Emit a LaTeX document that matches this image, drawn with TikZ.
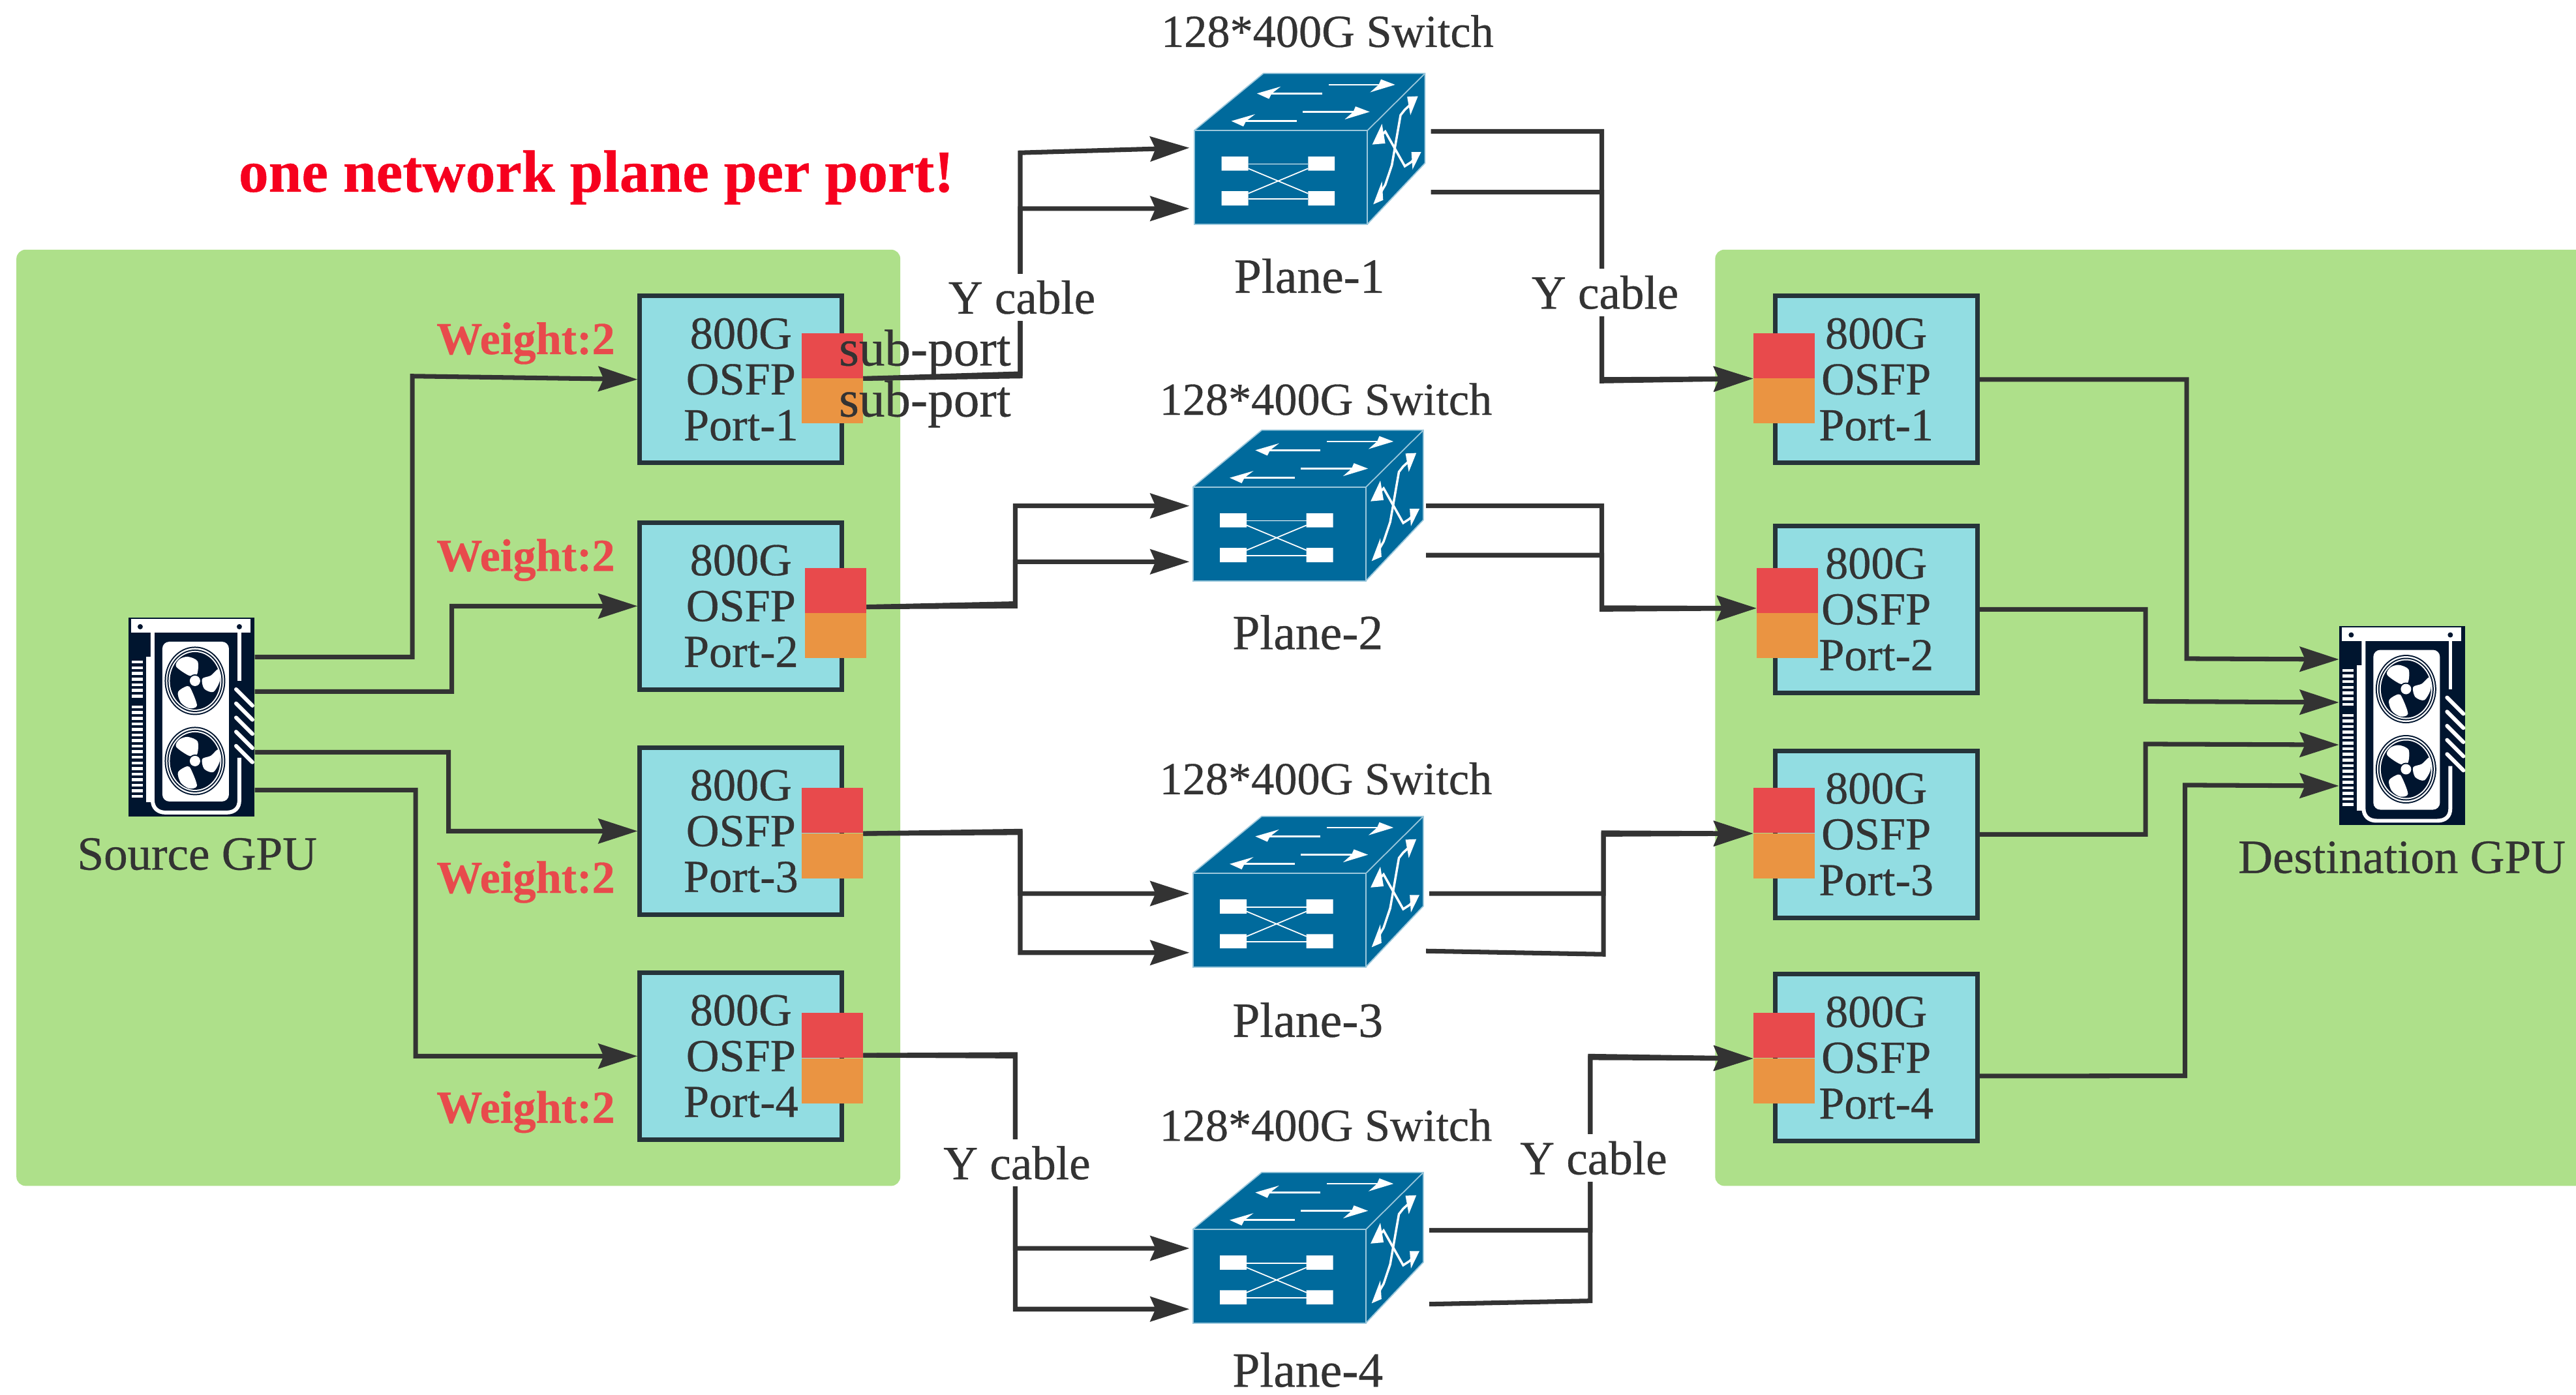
\documentclass[tikz,border=0pt]{standalone}
\usepackage{fontspec}
\setmainfont{Liberation Serif}[FakeBold=0.5]
\usetikzlibrary{arrows.meta}
\definecolor{panelgreen}{HTML}{AEE08A}
\definecolor{portblue}{HTML}{92DDE2}
\definecolor{boxedge}{HTML}{26343A}
\definecolor{subred}{HTML}{E84A4C}
\definecolor{suborange}{HTML}{EA9442}
\definecolor{switchblue}{HTML}{006A9C}
\definecolor{switchedge}{HTML}{9CC8DC}
\definecolor{gpunavy}{HTML}{00152F}
\definecolor{inktext}{HTML}{333333}
\definecolor{alarmred}{HTML}{F6001E}
\definecolor{weightred}{HTML}{E84A4C}
\tikzset{
  panel/.style={fill=panelgreen, rounded corners=4pt},
  portbox/.style={draw=boxedge, fill=portblue, line width=2pt, minimum width=3.1cm, minimum height=2.56cm,
    align=center, text=inktext, font=\fontsize{20}{20}\selectfont, inner sep=0pt},
  subtop/.style={fill=subred, minimum width=9.4mm, minimum height=6.9mm, inner sep=0pt},
  subbottom/.style={fill=suborange, minimum width=9.4mm, minimum height=6.9mm, inner sep=0pt},
  wire/.style={inktext, line width=2pt},
  wirearrow/.style={wire, -{Stealth[length=6mm, width=3.8mm, inset=0.8mm]}},
  label/.style={text=inktext, font=\fontsize{20}{20}\selectfont, inner sep=1pt},
  widelabel/.style={label, font=\fontsize{21.5}{21.5}\selectfont},
  subportlabel/.style={label, font=\fontsize{22.5}{22.5}\selectfont},
  cablelabel/.style={label, fill=white, inner sep=3pt, font=\fontsize{20.8}{20.8}\selectfont},
  weightlabel/.style={text=weightred, font=\fontsize{20}{20}\selectfont\bfseries, inner sep=1pt},
  switchface/.style={fill=switchblue, draw=switchedge, line width=0.5pt, minimum width=26.5mm, minimum height=14.4mm, inner sep=0pt},
  gpucard/.style={fill=gpunavy, minimum width=19.3mm, minimum height=30.5mm, inner sep=0pt},
}
% switch cube, #2 #3 = top left corner of the front face
\newcommand{\switchicon}[3]{
  \begin{scope}[shift={(#2,#3)}]
    \fill[switchblue] (0,0) -- (42,-34.7) -- (140.4,-34.7) -- (140.4,19.9) -- (105.4,57) -- (105.4,0) -- cycle;
    \draw[switchedge, line width=0.5pt] (0,0) -- (42,-34.7) -- (140.4,-34.7) -- (140.4,19.9) -- (105.4,57);
    \draw[switchedge, line width=0.5pt] (105.4,0) -- (140.4,-34.7);
    \node[switchface] (#1) at (52.7,28.5) {};
    \fill[white] (16.5,15.9) rectangle (32.8,24.5) (69.2,15.9) rectangle (85.4,24.5);
    \fill[white] (16.5,37) rectangle (32.8,45.7) (69.2,37) rectangle (85.4,45.7);
    \draw[white, line width=0.5pt] (32.8,20.5) -- (69.2,20.5) (32.8,41.7) -- (69.2,41.7);
    \draw[white, line width=0.5pt] (32.8,23.2) -- (69.2,38.4) (32.8,38.4) -- (69.2,23.2);
    % top face arrows
    \draw[white, line width=0.8pt] (77.8,-22.5) -- (42,-22.5) (81.8,-27.8) -- (116,-27.8) (65.9,-11.3) -- (100,-11.3) (62.2,-5.7) -- (27,-5.7);
    \foreach \px/\py in {38.1/-22.5, 22.5/-5.7}
      \fill[white] (\px,\py) -- ++(14.5,-4.2) -- ++(-5.5,4.2) -- ++(-1.7,3.3) -- cycle;
    \foreach \px/\py in {122.2/-27.8, 106.7/-11.3}
      \fill[white] (\px,\py) -- ++(-8.6,-3.3) -- ++(-1.4,3.3) -- ++(-5.2,4.6) -- cycle;
    % side face arrows
    \draw[white, line width=1pt] (134,-18) -- (128.1,-12.6) -- (125.5,-9.3) -- (120.2,21.2) -- (116.2,33.1) -- (111,42);
    \draw[white, line width=1pt] (110,7) -- (116.2,0.7) -- (128.1,21.8) -- (132.1,19.2) -- (136,15);
    \fill[white] (136.1,-20.8) -- (129.5,-20.5) -- (131.5,-9.3) -- cycle;
    \fill[white] (108.9,45) -- (114.2,31) -- (114.9,42.4) -- cycle;
    \fill[white] (108.3,8.6) -- (114.2,-4) -- (116.2,7.9) -- cycle;
    \fill[white] (138,13.2) -- (132.1,13.2) -- (132.8,23.8) -- cycle;
  \end{scope}
}
% one fan of the card
\newcommand{\gpufan}[2]{
  \begin{scope}[shift={(#1,#2)}]
    \fill[gpunavy] (0,0) ellipse [x radius=46.5, y radius=52.5];
    \fill[white] (0,0) ellipse [x radius=44.5, y radius=50.5];
    \fill[gpunavy] (0,0) ellipse [x radius=42.5, y radius=48];
    \fill[white] (0,0) ellipse [x radius=40.5, y radius=46];
    \fill[gpunavy] (0,0) ellipse [x radius=38.5, y radius=44];
    \fill[white] plot[smooth cycle] coordinates {(-11,-37) (4,-30) (3,-10) (-9,-8) (-29,-22) (-24,-33)};
    \fill[white] plot[smooth cycle] coordinates {(36,-18) (38,0) (28,17) (14,12) (11,-3) (24,-8)};
    \fill[white] plot[smooth cycle] coordinates {(-26,17) (-12,8) (-6,13) (3,38) (-9,42) (-22,33)};
    \fill[gpunavy] (0,0) circle (10);
    \fill[white] (0,0) circle (8);
  \end{scope}
}
% graphics card, #2 #3 = top left corner
\newcommand{\gpuicon}[3]{
  \begin{scope}[shift={(#2,#3)}, scale=0.397]
    \node[gpucard] (#1) at (96.5,152.5) {};
    \fill[white] (4,2) rectangle (187,23);
    \fill[gpunavy] (18,14) circle (4) (170,14) circle (4);
    \fill[white] (27,60) rectangle (40,283);
    \draw[white, line width=1.7pt] (37,23) -- (37,280) .. controls (37,292) and (45,299) .. (57,299) -- (150,299) .. controls (163,299) and (170,292) .. (170,280) -- (170,215);
    \draw[white, line width=1.5pt] (170,23) -- (170,97);
    \fill[white, rounded corners=3pt] (52,37) rectangle (154,282);
    \gpufan{102}{97}
    \gpufan{102}{220}
    \foreach \n in {0,...,6}
      \fill[white] (5,{66+8.7*\n}) rectangle (22,{70.5+8.7*\n});
    \foreach \n in {0,...,16}
      \fill[white] (5,{135+8.56*\n}) rectangle (22,{139.5+8.56*\n});
    \foreach \n in {0,...,4}
      \draw[white, line width=1.7pt, line cap=round] (165,{110+21.7*\n}) -- (190,{135+21.7*\n});
  \end{scope}
}
\begin{document}
\begin{tikzpicture}[x=0.25185mm, y=-0.25185mm]
\clip (0,0) rectangle (1568,849);
% Server panels
\fill[panel] (10,152) rectangle (548,722);
\fill[panel] (1044,152) rectangle (1600,722);

\node[text=alarmred, font=\fontsize{26}{26}\selectfont\bfseries, inner sep=0pt] (title) at (363,108) {one network plane per port!};

% Source ports
\node[portbox] (lbox1) at (451,231) {800G\\OSFP\\Port-1};
\node[portbox] (lbox2) at (451,369) {800G\\OSFP\\Port-2};
\node[portbox] (lbox3) at (451,506) {800G\\OSFP\\Port-3};
\node[portbox] (lbox4) at (451,643) {800G\\OSFP\\Port-4};

\node[subtop] (lsub1a) at (506.5,216.5) {};
\node[subbottom] (lsub1b) at (506.5,244) {};
\node[subtop] (lsub2a) at (508.5,359.5) {};
\node[subbottom] (lsub2b) at (508.5,387) {};
\node[subtop] (lsub3a) at (506.5,493.5) {};
\node[subbottom] (lsub3b) at (506.5,521) {};
\node[subtop] (lsub4a) at (506.5,630.5) {};
\node[subbottom] (lsub4b) at (506.5,658) {};

% Destination ports
\node[portbox] (rbox1) at (1142,231) {800G\\OSFP\\Port-1};
\node[portbox] (rbox2) at (1142,371) {800G\\OSFP\\Port-2};
\node[portbox] (rbox3) at (1142,508) {800G\\OSFP\\Port-3};
\node[portbox] (rbox4) at (1142,644) {800G\\OSFP\\Port-4};

\node[subtop] (rsub1a) at (1086,216.5) {};
\node[subbottom] (rsub1b) at (1086,244) {};
\node[subtop] (rsub2a) at (1088,359.5) {};
\node[subbottom] (rsub2b) at (1088,387) {};
\node[subtop] (rsub3a) at (1086,493.5) {};
\node[subbottom] (rsub3b) at (1086,521) {};
\node[subtop] (rsub4a) at (1086,630.5) {};
\node[subbottom] (rsub4b) at (1086,658) {};

% Icons
\gpuicon{srcgpu}{78.2}{376}
\gpuicon{dstgpu}{1424}{381}
\switchicon{sw1}{727}{79.4}
\switchicon{sw2}{726}{296.6}
\switchicon{sw3}{726}{531.7}
\switchicon{sw4}{726}{748.5}

\coordinate (sw1i1) at (724,90);
\coordinate (sw1i2) at (724,127);
\coordinate (sw2i1) at (724,308);
\coordinate (sw2i2) at (724,342);
\coordinate (sw3i1) at (724,544);
\coordinate (sw3i2) at (724,580);
\coordinate (sw4i1) at (724,760);
\coordinate (sw4i2) at (724,797);
\coordinate (sw1o1) at (871,80);
\coordinate (sw1o2) at (871,117);
\coordinate (sw2o1) at (868,308);
\coordinate (sw2o2) at (868,338);
\coordinate (sw3o1) at (870,544);
\coordinate (sw3o2) at (868,579);
\coordinate (sw4o1) at (870,749);
\coordinate (sw4o2) at (870,794);

% GPU to source ports
\draw[wirearrow] ([yshift=9.2mm]srcgpu.east) -- (251,400) -- (251,229) -- (lbox1.west);
\draw[wirearrow] ([yshift=3.9mm]srcgpu.east) -- (275,421) -- (275,369) -- (lbox2.west);
\draw[wirearrow] ([yshift=-5.4mm]srcgpu.east) -- (273,458) -- (273,506) -- (lbox3.west);
\draw[wirearrow] ([yshift=-11.2mm]srcgpu.east) -- (253,481) -- (253,643) -- (lbox4.west);

% Y cables into the planes
\draw[wirearrow] (lsub1a.south east) -- (621,229) -- (621,93) -- (sw1i1);
\draw[wirearrow] (lsub1a.south east) -- (621,227.5) -- (621,127) -- (sw1i2);
\draw[wirearrow] ([yshift=1mm]lsub2a.south east) -- (618,369) -- (618,308) -- (sw2i1);
\draw[wirearrow] ([yshift=1mm]lsub2a.south east) -- (618,367.5) -- (618,342) -- (sw2i2);
\draw[wirearrow] (lsub3a.south east) -- (621,506) -- (621,544) -- (sw3i1);
\draw[wirearrow] (lsub3a.south east) -- (621,507) -- (621,580) -- (sw3i2);
\draw[wirearrow] ([yshift=0.5mm]lsub4a.south east) -- (618,642) -- (618,760) -- (sw4i1);
\draw[wirearrow] ([yshift=0.5mm]lsub4a.south east) -- (618,643) -- (618,797) -- (sw4i2);

% Y cables out of the planes
\draw[wirearrow] (sw1o1) -- (975,80) -- (975,231) -- (rsub1a.south west);
\draw[wirearrow] (sw1o2) -- (975,117) -- (975,232) -- (rsub1a.south west);
\draw[wirearrow] (sw2o1) -- (975,308) -- (975,370) -- ([yshift=0.8mm]rsub2a.south west);
\draw[wirearrow] (sw2o2) -- (975,338) -- (975,371) -- ([yshift=0.8mm]rsub2a.south west);
\draw[wirearrow] (sw3o1) -- (976,544) -- (976,508) -- (rsub3a.south west);
\draw[wirearrow] (sw3o2) -- (976,581) -- (976,507) -- (rsub3a.south west);
\draw[wirearrow] (sw4o1) -- (968,749) -- (968,644) -- (rsub4a.south west);
\draw[wirearrow] (sw4o2) -- (968,792) -- (968,643) -- (rsub4a.south west);

% Destination ports to GPU
\draw[wirearrow] (rbox1.east) -- (1331,231) -- (1331,401) -- ([yshift=10.1mm]dstgpu.west);
\draw[wirearrow] (rbox2.east) -- (1306,371) -- (1306,427) -- ([yshift=3.5mm]dstgpu.west);
\draw[wirearrow] (rbox3.east) -- (1306,508) -- (1306,453) -- ([yshift=-3mm]dstgpu.west);
\draw[wirearrow] ([yshift=-2.8mm]rbox4.east) -- (1330,655) -- (1330,478) -- ([yshift=-9.3mm]dstgpu.west);

% Labels
\node[label, font=\fontsize{20.8}{20.8}\selectfont] (srclabel) at (120,520) {Source GPU};
\node[label, font=\fontsize{20.8}{20.8}\selectfont] (dstlabel) at (1462,522) {Destination GPU};
\node[subportlabel] (subport1) at (563,215) {sub-port};
\node[subportlabel] (subport2) at (563,246) {sub-port};

\node[weightlabel] (weight1) at (320,209) {Weight:2};
\node[weightlabel] (weight2) at (320,341) {Weight:2};
\node[weightlabel] (weight3) at (320,537) {Weight:2};
\node[weightlabel] (weight4) at (320,677) {Weight:2};

\node[cablelabel] (ycable1) at (622,181) {Y cable};
\node[cablelabel] (ycable2) at (977,178) {Y cable};
\node[cablelabel] (ycable3) at (619,708) {Y cable};
\node[cablelabel] (ycable4) at (970,705) {Y cable};

\node[label] (swname1) at (808,19) {128*400G Switch};
\node[label] (swname2) at (807,243) {128*400G Switch};
\node[label] (swname3) at (807,474) {128*400G Switch};
\node[label] (swname4) at (807,685) {128*400G Switch};

\node[widelabel] (plane1) at (797,168) {Plane-1};
\node[widelabel] (plane2) at (796,385) {Plane-2};
\node[widelabel] (plane3) at (796,621) {Plane-3};
\node[widelabel] (plane4) at (796,834) {Plane-4};
\end{tikzpicture}
\end{document}
